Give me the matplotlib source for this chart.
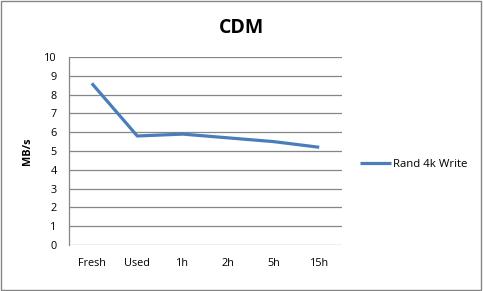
import matplotlib
matplotlib.use("Agg")
import matplotlib.pyplot as plt
from matplotlib.patches import Rectangle

# data
categories = ["Fresh", "Used", "1h", "2h", "5h", "15h"]
rand_4k_write = [8.6, 5.8, 5.9, 5.7, 5.5, 5.2]

plt.rcParams['font.family'] = ['Open Sans', 'DejaVu Sans']

fig = plt.figure(figsize=(4.83, 2.91), dpi=100)
ax = fig.add_axes([0.143, 0.158, 0.565, 0.646])

x = list(range(len(categories)))
ax.plot(x, rand_4k_write, color="#4A7EBB", linewidth=2.3, label="Rand 4k Write",
        solid_capstyle="butt")

ax.set_xlim(-0.5, len(categories) - 0.5)
ax.set_ylim(0, 10)
ax.set_yticks(range(0, 11))
ax.set_xticks(x)
ax.set_xticklabels(categories)
ax.tick_params(axis="both", length=0, labelsize=7.8, colors="black")
ax.tick_params(axis="x", pad=9)
ax.tick_params(axis="y", pad=9)
ax.grid(axis="y", color="#868686", linewidth=0.9)
ax.set_axisbelow(True)
for s in ["top", "right", "bottom"]:
    ax.spines[s].set_visible(False)
ax.spines["left"].set_color("#868686")
ax.spines["left"].set_linewidth(0.9)

ax.set_ylabel("MB/s", fontsize=7.8, fontweight="bold", labelpad=8)
fig.text(0.5, 0.905, "CDM", ha="center", va="center", fontsize=14, fontweight="bold")

leg = ax.legend(loc="center left", bbox_to_anchor=(1.03, 0.43), frameon=False,
                fontsize=8.2, handlelength=2.7, handletextpad=0.15)

fig.patches.append(Rectangle((0.002, 0.003), 0.994, 0.994, transform=fig.transFigure,
                             fill=False, edgecolor="#868686", linewidth=1))

fig.savefig("out.png", dpi=100)
